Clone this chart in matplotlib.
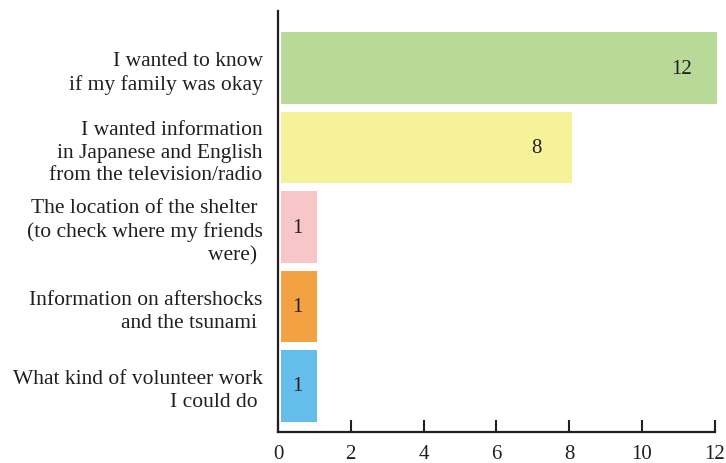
import matplotlib
matplotlib.use("Agg")
import matplotlib.pyplot as plt

categories = [
    "I wanted to know\nif my family was okay",
    "I wanted information\nin Japanese and English\nfrom the television/radio",
    "The location of the shelter \n(to check where my friends\nwere) ",
    "Information on aftershocks\nand the tsunami ",
    "What kind of volunteer work\nI could do ",
]
values = [12, 8, 1, 1, 1]
colors = ["#b9d999", "#f6f29a", "#f7c6c8", "#f2a143", "#64bdea"]
xticks = [0, 2, 4, 6, 8, 10, 12]

plt.rcParams["font.family"] = ["Liberation Serif", "DejaVu Serif"]
text_color = "#231f20"

fig = plt.figure(figsize=(7.26, 4.64), dpi=100)
ax = fig.add_axes([278 / 726, 1 - 433 / 464, (720 - 278) / 726, (433 - 12) / 464])

ypos = list(range(len(categories)))
ax.barh(ypos, values, left=0.08, height=0.9, color=colors)

for y, v in zip(ypos, values):
    if v > 2:
        ax.text(v - 0.9, y, str(v), ha="center", va="center", fontsize=15, color=text_color)
    else:
        ax.text(0.08 + v / 2 - 0.05, y, str(v), ha="center", va="center", fontsize=15, color=text_color)

ax.set_xlim(0, 12.15)
ax.set_ylim(4.58, -0.72)
ax.set_yticks(ypos)
ax.set_yticklabels(categories, fontsize=15.5, color=text_color, linespacing=1.27)
ax.tick_params(axis="y", length=0, pad=11)
ax.set_xticks(xticks)
ax.set_xticklabels([str(t) for t in xticks], fontsize=15, color=text_color)
ax.tick_params(axis="x", direction="in", length=8.5, width=1.5, color=text_color, pad=9)

for s in ["top", "right"]:
    ax.spines[s].set_visible(False)
for s in ["left", "bottom"]:
    ax.spines[s].set_color(text_color)
    ax.spines[s].set_linewidth(1.6)
ax.spines["bottom"].set_bounds(0, 12)

fig.savefig("out.png", dpi=100)
